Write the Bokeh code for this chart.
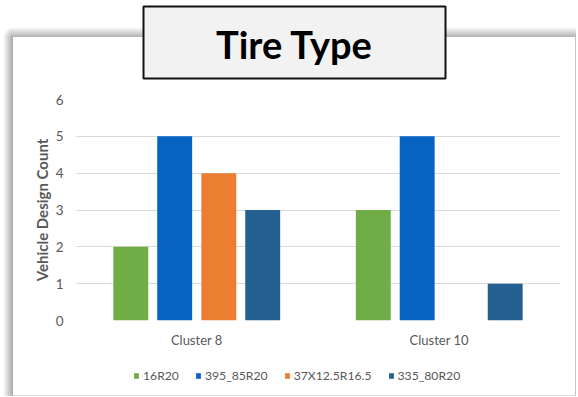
from bokeh.plotting import figure
from bokeh.layouts import column
from bokeh.models import (FactorRange, Range1d, Legend, LegendItem, FixedTicker,
                          BoxAnnotation, Label)
from bokeh.transform import dodge
from bokeh.embed import file_html
from bokeh.resources import INLINE

clusters = ["Cluster 8", "Cluster 10"]
series_names = ["16R20", "395_85R20", "37X12.5R16.5", "335_80R20"]
s_16R20 = [2, 3]
s_395_85R20 = [5, 5]
s_37X125R165 = [4, 0]
s_335_80R20 = [3, 1]
y_ticks = [0, 1, 2, 3, 4, 5, 6]
title_text = "Tire Type"

colors = ["#70AD47", "#0563C1", "#ED7D31", "#255E91"]
offsets = [-0.272, -0.091, 0.091, 0.272]
FONT = "Lato"
GRAY = "#595959"
BORDERS = dict(min_border_left=75, min_border_right=18)


def bare(fig):
    fig.background_fill_alpha = 0
    fig.border_fill_alpha = 0
    fig.outline_line_color = None


# ---- title strip (pixel-like ranges) ----
tf = figure(width=578, height=89, x_range=Range1d(75, 560), y_range=Range1d(89, 0),
            output_backend="svg", toolbar_location=None,
            min_border_top=0, min_border_bottom=0, **BORDERS)
bare(tf)
tf.axis.visible = False
tf.grid.visible = False
tf.add_layout(BoxAnnotation(left=143, right=445, top=6, bottom=78,
                            fill_color="#f2f2f2", fill_alpha=1,
                            line_color="#111111", line_alpha=1, line_width=2))
tf.add_layout(Label(x=294, y=43, text=title_text, text_align="center",
                    text_baseline="middle", text_font=FONT,
                    text_font_style="bold", text_font_size="38px",
                    text_color="black"))

# ---- main chart ----
p = figure(width=578, height=269, x_range=FactorRange(factors=clusters),
           y_range=Range1d(0, 6), output_backend="svg", toolbar_location=None,
           min_border_top=10, min_border_bottom=38, **BORDERS)
bare(p)

data = {"cluster": clusters, "a": s_16R20, "b": s_395_85R20,
        "c": s_37X125R165, "d": s_335_80R20}
for key, col, off in zip(["a", "b", "c", "d"], colors, offsets):
    p.vbar(x=dodge("cluster", off, range=p.x_range), top=key, width=0.144,
           source=data, fill_color=col, line_color=None)

p.yaxis.ticker = FixedTicker(ticks=y_ticks)
p.ygrid.grid_line_color = "#d9d9d9"
p.xgrid.grid_line_color = None
for ax in (p.xaxis, p.yaxis):
    ax.axis_line_color = None
    ax.major_tick_line_color = None
    ax.minor_tick_line_color = None
    ax.major_tick_out = 0
    ax.major_tick_in = 0
    ax.minor_tick_out = 0
    ax.major_label_text_font = FONT
    ax.major_label_text_color = GRAY
    ax.major_label_text_font_size = "13.5px"
p.yaxis.major_label_standoff = 12
p.xaxis.major_label_standoff = 11
p.xaxis.major_label_text_font_size = "13px"
p.yaxis.axis_label = "Vehicle Design Count"
p.yaxis.axis_label_text_font = FONT
p.yaxis.axis_label_text_font_style = "bold"
p.yaxis.axis_label_text_font_size = "15px"
p.yaxis.axis_label_text_color = GRAY
p.yaxis.axis_label_standoff = 2

# ---- legend strip: same series, bars kept out of view, only the legend shows ----
lf = figure(width=578, height=39, x_range=FactorRange(factors=clusters),
            y_range=Range1d(100, 101), output_backend="svg", toolbar_location=None,
            min_border_top=0, min_border_bottom=0, **BORDERS)
bare(lf)
lf.axis.visible = False
lf.grid.visible = False
items = []
for key, name, col, off in zip(["a", "b", "c", "d"], series_names, colors, offsets):
    r = lf.vbar(x=dodge("cluster", off, range=lf.x_range), top=key, width=0.144,
                source=data, fill_color=col, line_color=None)
    items.append(LegendItem(label=name, renderers=[r]))
legend = Legend(items=items, orientation="horizontal", location=(58, 14),
                padding=0, margin=0, spacing=16, glyph_width=6, glyph_height=7,
                label_standoff=4, label_text_font=FONT,
                label_text_font_size="12.2px", label_text_color=GRAY,
                border_line_color=None, background_fill_alpha=0)
lf.add_layout(legend, "center")

layout = column(tf, p, lf, spacing=0)
# white panel with a soft shadow at its upper-left, behind the transparent canvases
layout.styles = {
    "background-color": "white",
    "background-image": ", ".join([
        "linear-gradient(#c4c4c4, #c4c4c4)",
        "linear-gradient(#dcdcdc, #dcdcdc)",
        "linear-gradient(to right, rgba(0,0,0,0), rgba(0,0,0,0.34))",
        "linear-gradient(to bottom, rgba(0,0,0,0), rgba(0,0,0,0.30))",
        "radial-gradient(circle at 100% 100%, rgba(0,0,0,0.32), rgba(0,0,0,0) 10px)",
    ]),
    "background-size": "1px 359px, 563px 1px, 10px 359px, 563px 10px, 10px 10px",
    "background-position": "575px 37px, 13px 395px, 3px 37px, 13px 27px, 3px 27px",
    "background-repeat": "no-repeat",
}

open("out.html", "w").write(file_html(layout, INLINE))
